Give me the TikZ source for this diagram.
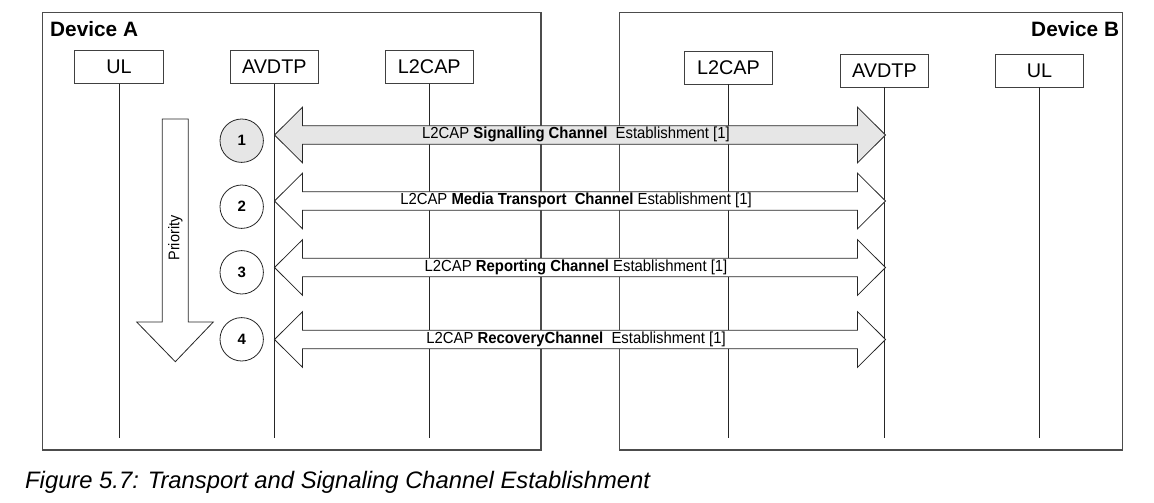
\documentclass[tikz,border=0pt]{standalone}
\usepackage{fontspec}
\setmainfont{Liberation Sans}
\usetikzlibrary{calc}
\definecolor{chanfill}{HTML}{E6E6E6}
\newcommand\narrowtext[1]{\scalebox{0.93}[1]{#1}}
\begin{document}
\begin{tikzpicture}[x=1pt,y=-1pt,
  devbox/.style={draw=black!70, line width=1.2pt},
  layer/.style={draw=black!75, line width=0.9pt, fill=white, minimum width=88.6pt,
    minimum height=33pt, inner sep=0pt, font=\fontsize{19.8}{22}\selectfont},
  life/.style={draw=black!85, line width=0.9pt},
  devlabel/.style={font=\fontsize{20.8}{24}\selectfont\bfseries, inner sep=0pt},
  stepnum/.style={circle, draw=black!85, line width=0.8pt, minimum size=43.4pt,
    inner sep=0pt, fill=white, font=\fontsize{15}{18}\selectfont\bfseries},
  chan/.style={draw=black!85, line width=0.8pt, fill=white, line join=miter},
  chanlabel/.style={anchor=base, inner sep=0pt, font=\fontsize{16}{18}\selectfont},
  chanshape/.style 2 args={insert path={
    (#1) -- ($(#1)+(28,-27.8)$) -- ($(#1)+(28,-9.3)$) -- ($(#2)+(-28,-9.3)$)
    -- ($(#2)+(-28,-27.8)$) -- (#2) -- ($(#2)+(-28,27.8)$) -- ($(#2)+(-28,9.3)$)
    -- ($(#1)+(28,9.3)$) -- ($(#1)+(28,27.8)$) -- cycle}},
  prio/.style={draw=black!85, line width=0.8pt, fill=white, line join=miter}
]
\useasboundingbox (0,0) rectangle (1154,503);

% device frames
\draw[devbox] (42.3,12.7) rectangle (541,450);
\draw[devbox] (619.3,12.7) rectangle (1122.3,450);
\node[devlabel, anchor=base west] (devA) at (50,36.7) {Device A};
\node[devlabel, anchor=base east] (devB) at (1119.3,36.3) {Device B};

% protocol layers of device A
\node[layer] (ulA) at (119,67) {UL};
\node[layer] (avA) at (274.3,67) {AVDTP};
\node[layer] (l2A) at (429.3,67) {L2CAP};
% protocol layers of device B
\node[layer] (l2B) at (728.5,67.5) {L2CAP};
\node[layer] (avB) at (884.5,70.5) {AVDTP};
\node[layer] (ulB) at (1039.5,70.5) {UL};

% lifelines
\foreach \n in {ulA,avA,l2A,l2B,avB,ulB}
  \draw[life] (\n.south) -- (\n.south |- 0,437.7);

% priority arrow
\coordinate (pTop) at (175.3,119);
\draw[prio] ($(pTop)+(-13,0)$) -- ($(pTop)+(13,0)$) -- ($(pTop)+(13,203)$)
  -- ($(pTop)+(38,203)$) -- ($(pTop)+(0,242.7)$) -- ($(pTop)+(-38.6,203)$)
  -- ($(pTop)+(-13,203)$) -- cycle;
\node[rotate=90, inner sep=0pt, font=\fontsize{15.5}{18}\selectfont] (prioText) at (175.3,238) {\narrowtext{Priority}};

% step markers
\node[stepnum, fill=chanfill] (n1) at (241.7,140.7) {1};
\node[stepnum] (n2) at (241.7,206.7) {2};
\node[stepnum] (n3) at (241.7,272.3) {3};
\node[stepnum] (n4) at (241.7,339.3) {4};

% channel establishment arrows between the AVDTP lifelines
\coordinate (c1L) at (274.5,135);   \coordinate (c1R) at (885.5,135);
\coordinate (c2L) at (274.5,201);   \coordinate (c2R) at (885.5,201);
\coordinate (c3L) at (274.5,267.5); \coordinate (c3R) at (885.5,267.5);
\coordinate (c4L) at (274.5,339.5); \coordinate (c4R) at (885.5,339.5);

\draw[chan, fill=chanfill, chanshape={c1L}{c1R}];
\draw[chan, chanshape={c2L}{c2R}];
\draw[chan, chanshape={c3L}{c3R}];
\draw[chan, chanshape={c4L}{c4R}];

\node[chanlabel] (t1) at ($(c1L)!0.5!(c1R)+(-4,3.5)$)
  {\narrowtext{L2CAP \textbf{Signalling Channel}\ \ Establishment [1]}};
\node[chanlabel] (t2) at ($(c2L)!0.5!(c2R)+(-4,3.5)$)
  {\narrowtext{L2CAP \textbf{Media Transport\ \ Channel} Establishment [1]}};
\node[chanlabel] (t3) at ($(c3L)!0.5!(c3R)+(-4,3.5)$)
  {\narrowtext{L2CAP \textbf{Reporting Channel} Establishment [1]}};
\node[chanlabel] (t4) at ($(c4L)!0.5!(c4R)+(-4,3.5)$)
  {\narrowtext{L2CAP \textbf{RecoveryChannel}\ \ Establishment [1]}};

% caption
\node[anchor=base west, inner sep=0pt, font=\fontsize{23.8}{28}\selectfont\itshape]
  (cap) at (25,488) {Figure 5.7: Transport and Signaling Channel Establishment};
\end{tikzpicture}
\end{document}
